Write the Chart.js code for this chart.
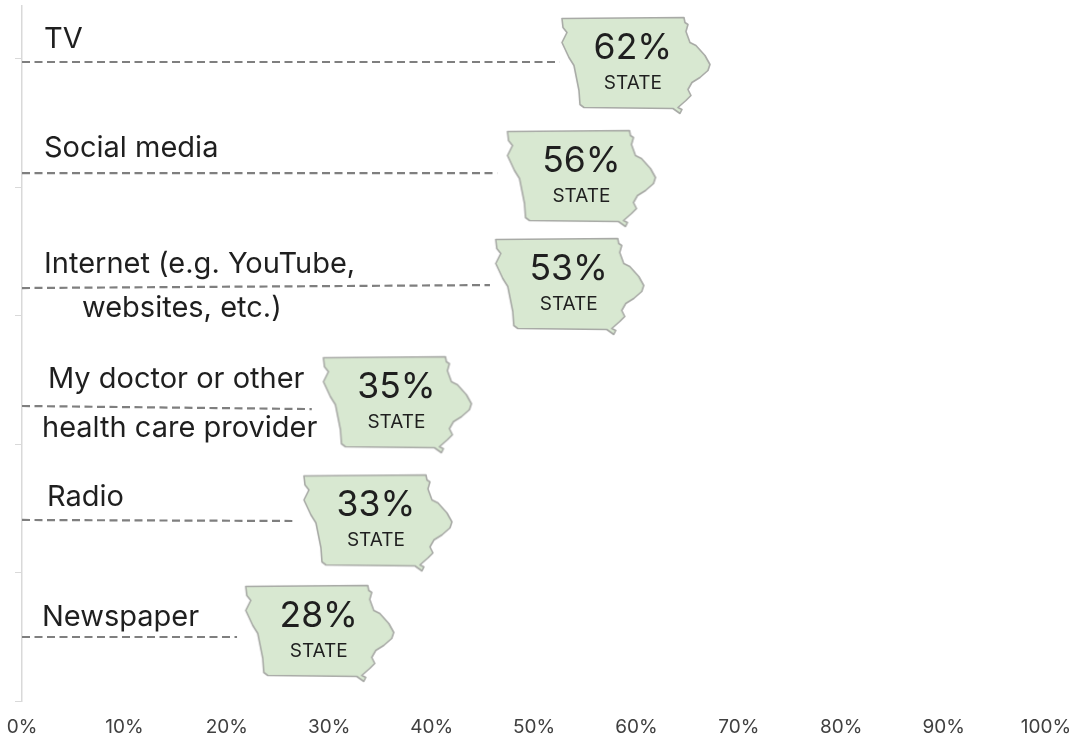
<!DOCTYPE html>
<html>
<head>
<meta charset="utf-8">
<style>
  html, body { margin: 0; padding: 0; background: #ffffff; }
  canvas { display: block; }
</style>
<script src="https://cdn.jsdelivr.net/npm/chart.js@4/dist/chart.umd.min.js"></script>
</head>
<body>
<canvas id="chart" width="1078" height="738"></canvas>
<script>
// Share of respondents per information source
const categories = ["TV", "Social media", "Internet", "My doctor", "Radio", "Newspaper"];
const values = [62, 56, 53, 35, 33, 28];
const tickLabels = ["0%", "10%", "20%", "30%", "40%", "50%", "60%", "70%", "80%", "90%", "100%"];

// Wrapped row captions
const captionLines = [
  ["TV"],
  ["Social media"],
  ["Internet (e.g. YouTube,", "websites, etc.)"],
  ["My doctor or other", "health care provider"],
  ["Radio"],
  ["Newspaper"]
];

// Row heights on the vertical axis (0 at the bottom, one unit per category band)
const stateRows = [4.95, 4.07, 3.23, 2.31, 1.39, 0.53];
const leaderStartRows = [4.973, 4.109, 3.214, 2.296, 1.409, 0.498];
const leaderEndRows = [4.973, 4.109, 3.237, 2.272, 1.401, 0.498];
// Where each dashed leader stops, in percent, short of its state marker
const leaderEnds = [52.5, 46.4, 45.7, 28.3, 26.4, 21];

// Hand placement of callouts relative to the value, in pixels
const stateNudge = [-21, -14, 5, 17, 18, 11];
const valueLabelNudge = [-24, -14, 4, 16, 16, 10];
// Caption placement relative to the axis and the leader start: [dx, dy] per line
const captionOffsets = [
  [[22, -23]],
  [[22, -25]],
  [[22, -24], [60, 20]],
  [[26, -27], [20, 22]],
  [[25, -23]],
  [[20, -20]]
];

const FONT = '"Inter", "Noto Sans", sans-serif';
const INK = "#1f1f1f";

// State outline, centred on the origin
const outline = [
  [-74,-48],[48,-49],[49,-44],[52,-42],[50,-35],[54,-24],[60,-21],[69,-11],[74,-2],[72,4],
  [64,11],[56,16],[52,23],[55,29],[50,34],[42,41],[46,43],[44,47],[37,42],[-52,41],
  [-56,38],[-57,24],[-59,14],[-62,-1],[-67,-9],[-74,-24],[-69,-34],[-73,-39]
];

function stateSprite(nudge) {
  const w = 156 + 2 * Math.abs(nudge), h = 108;
  const c = document.createElement("canvas");
  c.width = w; c.height = h;
  const g = c.getContext("2d");
  g.translate(w / 2 + nudge, h / 2 + 1.5);
  g.beginPath();
  outline.forEach(([x, y], i) => i ? g.lineTo(x, y) : g.moveTo(x, y));
  g.closePath();
  g.fillStyle = "#d8e8d1";
  g.strokeStyle = "#a8aaa6";
  g.lineWidth = 1.6;
  g.lineJoin = "round";
  g.fill();
  g.stroke();
  return c;
}
const sprites = stateNudge.map(stateSprite);

const leaderSets = categories.map((name, i) => ({
  type: "scatter",
  label: name + " leader",
  data: [{ x: 0, y: leaderStartRows[i] }, { x: leaderEnds[i], y: leaderEndRows[i] }],
  showLine: true,
  borderColor: "#7f7f7f",
  borderWidth: 2.2,
  borderDash: [8, 4.5],
  pointRadius: 0,
  order: 2
}));

const stateSet = {
  type: "scatter",
  label: "State",
  data: categories.map((_, i) => ({ x: values[i], y: stateRows[i] })),
  pointStyle: ctx => sprites[ctx.dataIndex],
  pointRadius: 40,
  clip: false,
  order: 1
};

// Writes the row captions and the value text on each state
const calloutText = {
  id: "calloutText",
  afterDatasetsDraw(chart) {
    const { ctx, scales: { x, y } } = chart;
    ctx.save();
    ctx.fillStyle = INK;
    ctx.textBaseline = "middle";

    ctx.textAlign = "left";
    ctx.font = "400 29px " + FONT;
    captionLines.forEach((lines, i) => {
      const base = y.getPixelForValue(leaderStartRows[i]);
      lines.forEach((line, j) => {
        const [dx, dy] = captionOffsets[i][j];
        ctx.fillText(line, x.getPixelForValue(0) + dx, base + dy);
      });
    });

    ctx.textAlign = "center";
    values.forEach((v, i) => {
      const cx = x.getPixelForValue(v) + valueLabelNudge[i];
      const cy = y.getPixelForValue(stateRows[i]);
      ctx.font = "400 35.5px " + FONT;
      ctx.fillText(v + "%", cx, cy - 17);
      ctx.font = "400 19px " + FONT;
      ctx.fillText("STATE", cx, cy + 18);
    });
    ctx.restore();
  }
};

new Chart(document.getElementById("chart"), {
  data: { datasets: [...leaderSets, stateSet] },
  plugins: [calloutText],
  options: {
    responsive: false,
    animation: false,
    layout: { autoPadding: false, padding: { top: 6, right: 32, left: 0, bottom: 0 } },
    plugins: { legend: { display: false }, tooltip: { enabled: false } },
    scales: {
      x: {
        type: "linear",
        min: 0,
        max: 100,
        afterFit(scale) {
          scale.height = 37;
          scale.paddingLeft = 0;
          scale.paddingRight = 0;
        },
        border: { display: false },
        grid: { display: false, drawTicks: false },
        ticks: {
          stepSize: 10,
          padding: 15,
          maxRotation: 0,
          autoSkip: false,
          color: "#404040",
          font: { family: FONT, size: 19 },
          callback: (_, i) => tickLabels[i]
        }
      },
      y: {
        type: "linear",
        min: 0,
        max: 5.409,
        afterFit(scale) { scale.width = 22; },
        border: { display: true, color: "#d9d9d9", width: 1.5 },
        grid: { drawOnChartArea: false, drawTicks: true, tickLength: 7, tickColor: "#d9d9d9", tickWidth: 1 },
        ticks: { stepSize: 1, display: false, includeBounds: false }
      }
    }
  }
});
</script>
</body>
</html>
